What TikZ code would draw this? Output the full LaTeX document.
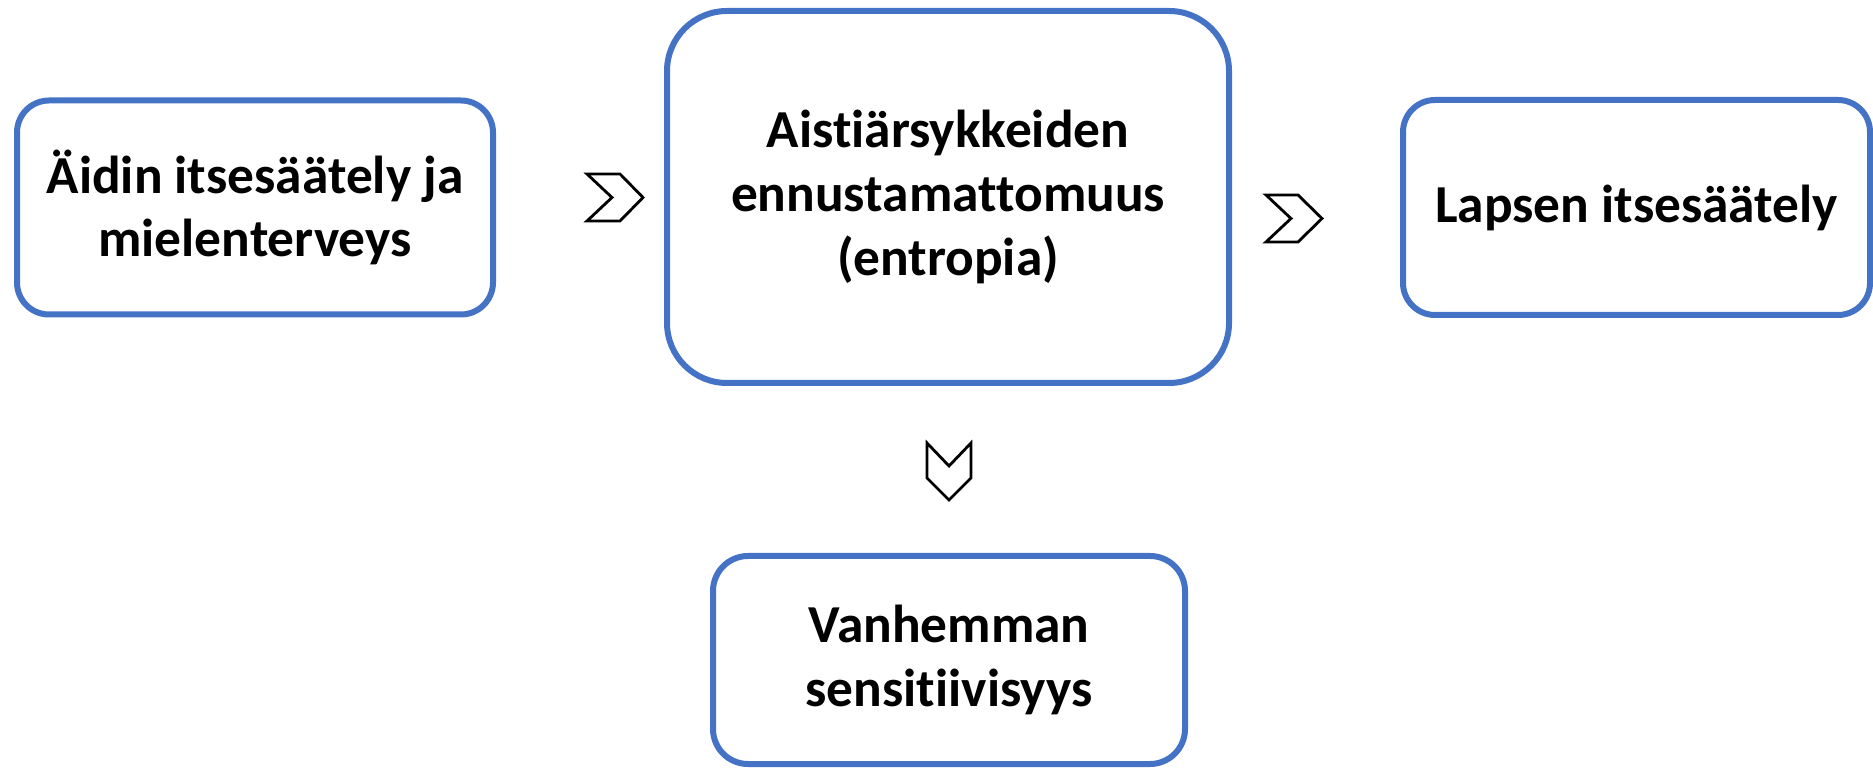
\documentclass[tikz,border=0pt]{standalone}
\usepackage{fontspec}
\setmainfont{Carlito}[Ligatures=NoCommon]
\definecolor{boxblue}{HTML}{4472C4}
\begin{document}
\begin{tikzpicture}[x=0.5pt,y=-0.5pt,
  box/.style={draw=boxblue, line width=3pt, fill=white, align=center,
    font=\fontsize{26.7}{31.8}\selectfont\bfseries, inner sep=0pt},
  chev/.style={draw=black, line width=1.4pt, fill=white, line join=miter}]
\useasboundingbox (0,0) rectangle (1873,769);
\node[box, minimum width=238pt, minimum height=107pt, rounded corners=16pt] (mom) at (255,207.5) {Äidin itsesäätely ja\\mielenterveys};
\node[box, minimum width=281pt, minimum height=186pt, rounded corners=30pt] (ent) at (948,197) {Aistiärsykkeiden\\ennustamattomuus\\(entropia)};
\node[box, minimum width=233.5pt, minimum height=107.5pt, rounded corners=16pt] (child) at (1636.5,207.5) {Lapsen itsesäätely};
\node[box, minimum width=236pt, minimum height=104pt, rounded corners=17.5pt] (sens) at (949,660) {Vanhemman\\sensitiivisyys};
% chevrons between boxes
\draw[chev] (587,174) -- (620,174) -- (643,197.5) -- (620,221) -- (587,221) -- (612,197.5) -- cycle;
\draw[chev] (1266,195) -- (1298,195) -- (1322,218.5) -- (1298,242) -- (1266,242) -- (1291,218.5) -- cycle;
\draw[chev] (927,443) -- (949,466) -- (971,443) -- (971,478) -- (949,500) -- (927,478) -- cycle;
\end{tikzpicture}
\end{document}
